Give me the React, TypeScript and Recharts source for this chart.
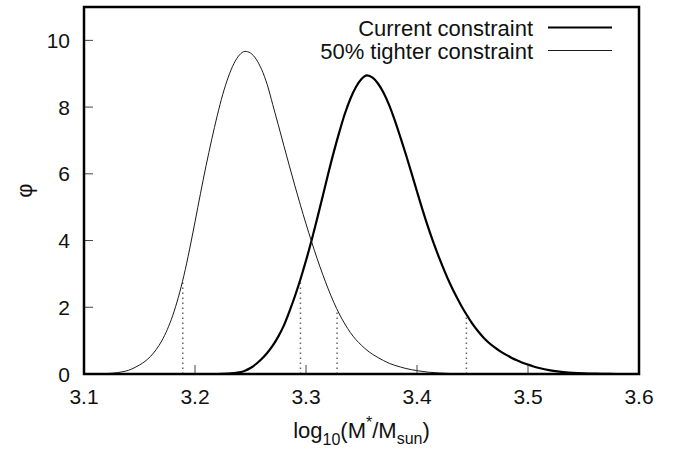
import React from 'react';
import { LineChart, Line, XAxis, YAxis, ReferenceLine, Legend } from 'recharts';

// Values: [log10(M*/Msun), phi]
const currentPoints: [number, number][] = [
  [3.10, 0], [3.22, 0], [3.23, 0.01], [3.235, 0.025], [3.24, 0.05], [3.245, 0.1], [3.25, 0.18],
  [3.255, 0.3], [3.26, 0.45], [3.265, 0.63], [3.27, 0.85], [3.275, 1.12], [3.28, 1.45], [3.285, 1.87],
  [3.29, 2.33], [3.295, 2.84], [3.30, 3.4], [3.305, 4.0], [3.31, 4.65], [3.315, 5.32], [3.32, 6.0],
  [3.325, 6.65], [3.33, 7.25], [3.335, 7.8], [3.34, 8.25], [3.345, 8.6], [3.35, 8.84], [3.355, 8.95],
  [3.36, 8.88], [3.365, 8.7], [3.37, 8.42], [3.375, 8.05], [3.38, 7.6], [3.385, 7.1], [3.39, 6.58],
  [3.395, 6.03], [3.40, 5.47], [3.405, 4.92], [3.41, 4.4], [3.415, 3.92], [3.42, 3.48], [3.425, 3.07],
  [3.43, 2.69], [3.435, 2.35], [3.44, 2.04], [3.445, 1.76], [3.45, 1.5], [3.455, 1.28], [3.46, 1.09],
  [3.465, 0.93], [3.47, 0.795], [3.475, 0.68], [3.48, 0.58], [3.485, 0.49], [3.49, 0.41], [3.495, 0.34],
  [3.50, 0.28], [3.505, 0.225], [3.51, 0.18], [3.52, 0.11], [3.53, 0.065], [3.54, 0.038], [3.55, 0.02],
  [3.56, 0.01], [3.57, 0.005], [3.58, 0], [3.60, 0],
];

const tighterPoints: [number, number][] = [
  [3.10, 0], [3.11, 0.003], [3.12, 0.012], [3.13, 0.04], [3.135, 0.07], [3.14, 0.11], [3.145, 0.18],
  [3.15, 0.27], [3.155, 0.38], [3.16, 0.53], [3.165, 0.73], [3.17, 0.99], [3.175, 1.33], [3.18, 1.76],
  [3.185, 2.3], [3.19, 2.95], [3.195, 3.72], [3.20, 4.56], [3.205, 5.42], [3.21, 6.25], [3.215, 7.02],
  [3.22, 7.74], [3.225, 8.38], [3.23, 8.9], [3.235, 9.3], [3.24, 9.56], [3.245, 9.67], [3.25, 9.62],
  [3.255, 9.44], [3.26, 9.13], [3.265, 8.68], [3.27, 8.08], [3.275, 7.47], [3.28, 6.85], [3.285, 6.24],
  [3.29, 5.64], [3.295, 5.06], [3.30, 4.5], [3.305, 3.97], [3.31, 3.46], [3.315, 2.99], [3.32, 2.55],
  [3.325, 2.15], [3.33, 1.8], [3.335, 1.5], [3.34, 1.24], [3.345, 1.03], [3.35, 0.86], [3.355, 0.71],
  [3.36, 0.59], [3.365, 0.49], [3.37, 0.4], [3.375, 0.32], [3.38, 0.26], [3.385, 0.21], [3.39, 0.165],
  [3.395, 0.13], [3.40, 0.1], [3.41, 0.055], [3.42, 0.03], [3.43, 0.015], [3.44, 0.007], [3.45, 0.003],
  [3.46, 0], [3.60, 0],
];

// Dotted interval bounds: [x, height]
const currentBounds: [number, number][] = [[3.295, 2.8], [3.4445, 1.78]];
const tighterBounds: [number, number][] = [[3.189, 2.85], [3.328, 1.93]];

const xDomain: [number, number] = [3.1, 3.6];
const yDomain: [number, number] = [0, 11];
const xTicks = [3.1, 3.2, 3.3, 3.4, 3.5, 3.6];
const yTicks = [0, 2, 4, 6, 8, 10];

const series = [
  { key: 'current', name: 'Current constraint', points: currentPoints, color: '#000', width: 2.2 },
  { key: 'tighter', name: '50% tighter constraint', points: tighterPoints, color: '#1a1a1a', width: 1 },
];

// Layout constants
const W = 681;
const H = 449;
const MARGIN = { top: 7, right: 42, bottom: 0, left: 0 };
const Y_AXIS_W = 84;
const X_AXIS_H = 75;
const PLOT = {
  left: MARGIN.left + Y_AXIS_W,
  top: MARGIN.top,
  right: W - MARGIN.right,
  bottom: H - MARGIN.bottom - X_AXIS_H,
};

const FONT = '"Liberation Sans", Arial, Helvetica, sans-serif';
const TICK_LEN = 9;
const TICK_COLOR = '#444';

const toData = (pts: [number, number][]) => pts.map(([x, y]) => ({ x, y }));

function BottomTick(props: any) {
  const { x, y, payload } = props;
  return (
    <g>
      <line x1={x} x2={x} y1={y} y2={y - TICK_LEN} stroke={TICK_COLOR} strokeWidth={1} />
      <text x={x} y={y + 30} textAnchor="middle" fontFamily={FONT} fontSize={21} fill="#111">
        {Number(payload.value).toFixed(1)}
      </text>
    </g>
  );
}

function TopTick(props: any) {
  const { x, y } = props;
  return <line x1={x} x2={x} y1={y} y2={y + TICK_LEN} stroke={TICK_COLOR} strokeWidth={1} />;
}

function LeftTick(props: any) {
  const { x, y, payload } = props;
  return (
    <g>
      <line x1={x} x2={x + TICK_LEN} y1={y} y2={y} stroke={TICK_COLOR} strokeWidth={1} />
      <text x={x - 14} y={y + 7.5} textAnchor="end" fontFamily={FONT} fontSize={21} fill="#111">
        {payload.value}
      </text>
    </g>
  );
}

function RightTick(props: any) {
  const { x, y } = props;
  return <line x1={x} x2={x - TICK_LEN} y1={y} y2={y} stroke={TICK_COLOR} strokeWidth={1} />;
}

function XLabel(props: any) {
  const vb = props.viewBox || { x: PLOT.left, y: PLOT.bottom, width: PLOT.right - PLOT.left, height: X_AXIS_H };
  const cx = vb.x + vb.width / 2;
  const y = vb.y + 64;
  return (
    <text x={cx} y={y} textAnchor="middle" fontFamily={FONT} fontSize={22} fill="#111">
      log
      <tspan dy={7} fontSize={16}>10</tspan>
      <tspan dy={-7}>(M</tspan>
      <tspan dy={-10} fontSize={16}>*</tspan>
      <tspan dy={10}>/M</tspan>
      <tspan dy={6} fontSize={16}>sun</tspan>
      <tspan dy={-6}>)</tspan>
    </text>
  );
}

function YLabel(props: any) {
  const vb = props.viewBox || { x: 0, y: PLOT.top, width: Y_AXIS_W, height: PLOT.bottom - PLOT.top };
  const x = vb.x + 24;
  const y = vb.y + vb.height / 2;
  return (
    <text
      x={x}
      y={y}
      textAnchor="middle"
      dominantBaseline="central"
      transform={`rotate(-90 ${x} ${y})`}
      fontFamily={FONT}
      fontSize={22}
      fill="#111"
    >
      φ
    </text>
  );
}

// Overlay: plot border and legend entries
function Overlay() {
  return (
    <svg width={W} height={H} style={{ display: 'block', pointerEvents: 'none' }}>
      <rect
        x={PLOT.left}
        y={PLOT.top}
        width={PLOT.right - PLOT.left}
        height={PLOT.bottom - PLOT.top}
        fill="none"
        stroke="#000"
        strokeWidth={2.5}
      />
      {series.map((s, i) => {
        const cy = 27.5 + i * 23;
        return (
          <g key={s.key}>
            <text x={533} y={cy + 8} textAnchor="end" fontFamily={FONT} fontSize={22} fill="#111">
              {s.name}
            </text>
            <line x1={548} x2={612} y1={cy} y2={cy} stroke={s.color} strokeWidth={s.width} />
          </g>
        );
      })}
    </svg>
  );
}

export default function App() {
  return (
    <div style={{ position: 'absolute', left: 0, top: 0, width: W, height: H, background: '#fff' }}>
      <LineChart width={W} height={H} margin={MARGIN}>
        <XAxis dataKey="x" type="number" domain={xDomain} ticks={xTicks} height={X_AXIS_H}
          tickSize={0} tickMargin={0} tick={<BottomTick />} tickLine={false} axisLine={false} label={<XLabel />} />
        <XAxis xAxisId="top" orientation="top" dataKey="x" type="number" domain={xDomain} ticks={xTicks}
          height={0} tickSize={0} tickMargin={0} tick={<TopTick />} tickLine={false} axisLine={false} />
        <YAxis type="number" domain={yDomain} ticks={yTicks} width={Y_AXIS_W}
          tickSize={0} tickMargin={0} tick={<LeftTick />} tickLine={false} axisLine={false} label={<YLabel />} />
        <YAxis yAxisId="right" orientation="right" type="number" domain={yDomain} ticks={yTicks}
          width={0} tickSize={0} tickMargin={0} tick={<RightTick />} tickLine={false} axisLine={false} />
        {[...tighterBounds, ...currentBounds].map(([bx, bh], i) => (
          <ReferenceLine key={`b${i}`} segment={[{ x: bx, y: 0 }, { x: bx, y: bh }]}
            stroke="#666" strokeWidth={1.5} strokeDasharray="1.5 3.5" />
        ))}
        {series.map((s) => (
          <Line key={s.key} data={toData(s.points)} dataKey="y" name={s.name} type="monotone"
            stroke={s.color} strokeWidth={s.width} dot={false} activeDot={false} isAnimationActive={false} />
        ))}
        <Legend layout="horizontal" verticalAlign="middle" align="center"
          wrapperStyle={{ position: 'absolute', left: 0, top: 0, width: W, height: H, pointerEvents: 'none' }}
          content={() => <Overlay />} />
      </LineChart>
    </div>
  );
}
